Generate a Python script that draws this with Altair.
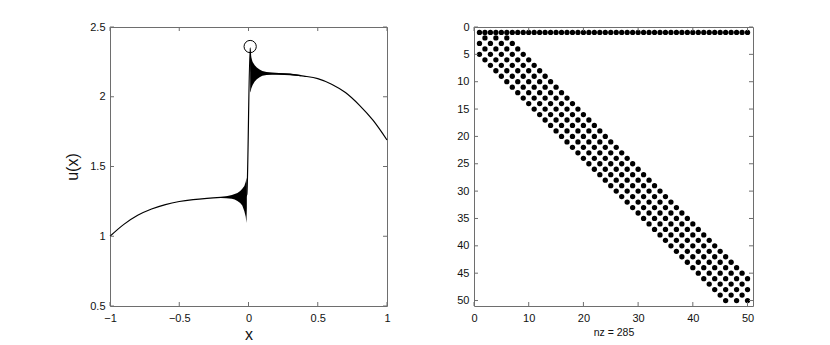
import altair as alt
import pandas as pd

# ---------------- left panel: u(x) ----------------
line_x = [-1.0, -0.9, -0.8, -0.7, -0.6, -0.5, -0.4, -0.3, -0.2, -0.1, -0.05, -0.02,
          -0.012, 0.012, 0.02, 0.05, 0.1, 0.2, 0.3, 0.4, 0.5, 0.6, 0.7, 0.8, 0.9, 1.0]
line_u = [1.0, 1.085, 1.15, 1.195, 1.227, 1.249, 1.263, 1.272, 1.278, 1.282, 1.284, 1.285,
          1.30, 2.35, 2.18, 2.17, 2.168, 2.165, 2.16, 2.148, 2.13, 2.09, 2.03, 1.94, 1.83, 1.69]

# oscillation envelope left of the jump
envL_x = [-0.2, -0.16, -0.12, -0.1, -0.08, -0.06, -0.045, -0.03, -0.02, -0.015, -0.012]
envL_hi = [1.281, 1.287, 1.295, 1.302, 1.31, 1.325, 1.34, 1.36, 1.39, 1.42, 1.38]
envL_lo = [1.275, 1.273, 1.268, 1.263, 1.253, 1.238, 1.22, 1.18, 1.14, 1.095, 1.2]

# oscillation envelope right of the jump
envR_x = [0.012, 0.016, 0.02, 0.03, 0.045, 0.06, 0.08, 0.1, 0.13, 0.17, 0.22, 0.3, 0.38]
envR_hi = [2.35, 2.31, 2.28, 2.25, 2.225, 2.21, 2.195, 2.185, 2.178, 2.174, 2.171, 2.166, 2.156]
envR_lo = [2.03, 2.04, 2.06, 2.085, 2.11, 2.125, 2.14, 2.15, 2.156, 2.158, 2.158, 2.155, 2.147]

peak_x = [0.012]
peak_u = [2.36]

left_xticks = [-1, -0.5, 0, 0.5, 1]
left_yticks = [0.5, 1, 1.5, 2, 2.5]

# ---------------- right panel: spy plot ----------------
n = 50
band_offsets = [-4, -2, 0, 2, 4]
nz_label = "nz = 285"
spy_xticks = [0, 10, 20, 30, 40, 50]
spy_yticks = [0, 5, 10, 15, 20, 25, 30, 35, 40, 45, 50]

FONT = "Liberation Sans"
FRAME = "#6e6e6e"
TICK = 4

LW, LH = 277, 279
RW, RH = 279, 279

df_line = pd.DataFrame({"x": line_x, "u": line_u})
df_envL = pd.DataFrame({"x": envL_x, "hi": envL_hi, "lo": envL_lo})
df_envR = pd.DataFrame({"x": envR_x, "hi": envR_hi, "lo": envR_lo})
df_peak = pd.DataFrame({"x": peak_x, "u": peak_u})

rows, cols = [], []
for j in range(1, n + 1):
    rows.append(1)
    cols.append(j)
for i in range(2, n + 1):
    for off in band_offsets:
        j = i + off
        if 1 <= j <= n:
            rows.append(i)
            cols.append(j)
df_spy = pd.DataFrame({"row": rows, "col": cols})


def inner_ticks(xticks, yticks, xs, ys, xax, yax, W, H):
    dx = pd.DataFrame({"v": xticks})
    dy = pd.DataFrame({"v": yticks})
    bx = alt.Chart(dx).mark_rule(color=FRAME, strokeWidth=1).encode(
        x=alt.X("v:Q", scale=xs, axis=xax), y=alt.value(H), y2=alt.value(H - TICK))
    tx = alt.Chart(dx).mark_rule(color=FRAME, strokeWidth=1).encode(
        x=alt.X("v:Q", scale=xs, axis=xax), y=alt.value(0), y2=alt.value(TICK))
    ly = alt.Chart(dy).mark_rule(color=FRAME, strokeWidth=1).encode(
        y=alt.Y("v:Q", scale=ys, axis=yax), x=alt.value(0), x2=alt.value(TICK))
    ry = alt.Chart(dy).mark_rule(color=FRAME, strokeWidth=1).encode(
        y=alt.Y("v:Q", scale=ys, axis=yax), x=alt.value(W), x2=alt.value(W - TICK))
    return [bx, tx, ly, ry]


# left panel
xsL = alt.Scale(domain=[-1, 1], nice=False, zero=False)
ysL = alt.Scale(domain=[0.5, 2.5], nice=False, zero=False)

xaxL = alt.Axis(values=left_xticks, format="~g", title="x", titleFontSize=16,
                titleFontWeight="normal", titlePadding=3, labelPadding=6)
yaxL = alt.Axis(values=left_yticks, format="~g", title="u(x)", titleFontSize=16,
                titleFontWeight="normal", titlePadding=9, labelPadding=5)

line = alt.Chart(df_line).mark_line(color="black", strokeWidth=1.2,
                                    interpolate="monotone").encode(
    x=alt.X("x:Q", scale=xsL, axis=xaxL),
    y=alt.Y("u:Q", scale=ysL, axis=yaxL),
)
areaL = alt.Chart(df_envL).mark_area(color="black", opacity=1).encode(
    x=alt.X("x:Q", scale=xsL, axis=xaxL), y=alt.Y("hi:Q", scale=ysL, axis=yaxL), y2="lo:Q")
areaR = alt.Chart(df_envR).mark_area(color="black", opacity=1).encode(
    x=alt.X("x:Q", scale=xsL, axis=xaxL), y=alt.Y("hi:Q", scale=ysL, axis=yaxL), y2="lo:Q")
peak = alt.Chart(df_peak).mark_point(shape="circle", filled=False, color="black",
                                     size=150, strokeWidth=1, opacity=1).encode(
    x=alt.X("x:Q", scale=xsL, axis=xaxL), y=alt.Y("u:Q", scale=ysL, axis=yaxL))

left = alt.layer(line, areaL, areaR, peak,
                 *inner_ticks(left_xticks, left_yticks, xsL, ysL, xaxL, yaxL, LW, LH)
                 ).properties(width=LW, height=LH)

# right panel
xsR = alt.Scale(domain=[0, n + 1], nice=False, zero=False)
ysR = alt.Scale(domain=[0, n + 1], nice=False, zero=False, reverse=True)

xaxR = alt.Axis(values=spy_xticks, format="d", title=nz_label, titleFontSize=10.5,
                titleFontWeight="normal", titlePadding=4, labelPadding=6)
yaxR = alt.Axis(values=spy_yticks, format="d", title=None, labelPadding=5)

spy = alt.Chart(df_spy).mark_circle(color="black", size=28, opacity=1).encode(
    x=alt.X("col:Q", scale=xsR, axis=xaxR),
    y=alt.Y("row:Q", scale=ysR, axis=yaxR),
)
right = alt.layer(spy, *inner_ticks(spy_xticks, spy_yticks, xsR, ysR, xaxR, yaxR, RW, RH)
                  ).properties(width=RW, height=RH)

chart = alt.hconcat(left, right, spacing=65).properties(
    padding={"left": 56, "top": 12, "right": 5, "bottom": 5}
).configure_view(stroke=FRAME, strokeWidth=1).configure_axis(
    labelFont=FONT, titleFont=FONT, labelFontSize=11, labelColor="#111",
    titleColor="#111", ticks=False, domain=False, grid=False,
    labelOverlap=False, labelFlush=False, labelBound=False
)

chart.save("out.html", embed_options={"renderer": "svg", "actions": False})
